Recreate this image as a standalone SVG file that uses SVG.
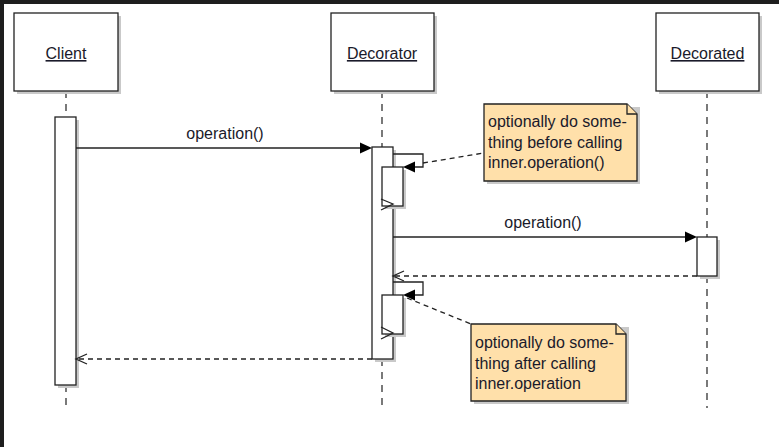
<svg xmlns="http://www.w3.org/2000/svg" width="779" height="447" viewBox="0 0 779 447">
<defs>
<style>
.box{fill:#fff;stroke:#222;stroke-width:1.3}
.shadow{fill:#c9c9c9}
.life{stroke:#333;stroke-width:1.3;stroke-dasharray:7,6;fill:none}
.msg{stroke:#222;stroke-width:1.3;fill:none}
.ret{stroke:#222;stroke-width:1.3;stroke-dasharray:5,4;fill:none}
.link{stroke:#222;stroke-width:1.3;stroke-dasharray:5,4;fill:none}
.note{fill:#ffe0aa;stroke:#222;stroke-width:1.3}
.lbl{font-family:"Liberation Sans",Arial,sans-serif;font-size:16px;fill:#1a1a2a}
.head{text-decoration:underline;text-anchor:middle}
.mid{text-anchor:middle}
.fill{fill:#000}
.open{stroke:#222;stroke-width:1.3;fill:none}
</style>
</defs>
<rect x="0" y="0" width="779" height="447" fill="#fff"/>
<rect x="0" y="0" width="779" height="4" fill="#1e1e1e"/>
<rect x="0" y="0" width="4" height="447" fill="#1e1e1e"/>

<g id="lifelines">
<line class="life" x1="66" y1="91" x2="66" y2="117"/>
<line class="life" x1="66" y1="385" x2="66" y2="408"/>
<line class="life" x1="382" y1="91" x2="382" y2="147"/>
<line class="life" x1="382" y1="359" x2="382" y2="408"/>
<line class="life" x1="707" y1="91" x2="707" y2="237"/>
<line class="life" x1="707" y1="276" x2="707" y2="408"/>
</g>

<g id="client">
<rect class="shadow" x="17" y="16" width="104" height="78"/>
<rect class="box" x="14" y="13" width="104" height="78"/>
<text class="lbl head" x="66" y="59">Client</text>
</g>
<g id="decorator">
<rect class="shadow" x="334" y="16" width="103" height="78"/>
<rect class="box" x="331" y="13" width="103" height="78"/>
<text class="lbl head" x="382" y="59">Decorator</text>
</g>
<g id="decorated">
<rect class="shadow" x="659" y="16" width="103" height="78"/>
<rect class="box" x="656" y="13" width="103" height="78"/>
<text class="lbl head" x="707.5" y="59">Decorated</text>
</g>

<g id="client-activation">
<rect class="shadow" x="58" y="120" width="21" height="268"/>
<rect class="box" x="55" y="117" width="21" height="268"/>
</g>
<g id="decorator-activation">
<rect class="shadow" x="375" y="150" width="21" height="212"/>
<rect class="box" x="372" y="147" width="21" height="212"/>
</g>
<g id="decorated-activation">
<rect class="shadow" x="700" y="240" width="20" height="39"/>
<rect class="box" x="697" y="237" width="20" height="39"/>
</g>

<g id="connectors">
<!-- message 1 -->
<line class="msg" x1="76" y1="148" x2="362" y2="148"/>
<polygon class="fill" points="372,148 360,142.5 360,153.5"/>
<text class="lbl mid" x="225" y="139">operation()</text>
<!-- self-call 1 -->
<polyline class="msg" points="393,154 423,154 423,167 412,167"/>
<!-- message 2 -->
<line class="msg" x1="393" y1="237" x2="687" y2="237"/>
<polygon class="fill" points="697,237 685,231.5 685,242.5"/>
<text class="lbl mid" x="543" y="228">operation()</text>
<!-- return from decorated -->
<line class="ret" x1="697" y1="276" x2="394" y2="276"/>
<polyline class="open" points="404,271 393,276 404,281"/>
<!-- self-call 2 -->
<polyline class="msg" points="393,282 423,282 423,295 412,295"/>
<!-- return to client -->
<line class="ret" x1="372" y1="359" x2="77" y2="359"/>
<polyline class="open" points="87,354 76,359 87,364"/>
</g>

<g id="nested-1">
<rect class="shadow" x="385" y="170" width="21" height="39"/>
<rect class="box" x="382" y="167" width="21" height="39"/>
<polygon class="fill" points="403,167 415,161.5 415,172.5"/>
<polyline class="open" points="381,199 393,204 381,210"/>
</g>
<g id="nested-2">
<rect class="shadow" x="385" y="298" width="21" height="39"/>
<rect class="box" x="382" y="295" width="21" height="39"/>
<polygon class="fill" points="403,295 415,289.5 415,300.5"/>
<polyline class="open" points="381,327 393,333 381,339"/>
</g>

<g id="note-links">
<line class="link" x1="423" y1="163" x2="484" y2="153"/>
<line class="link" x1="407" y1="298" x2="471" y2="324"/>
</g>

<g id="note-before">
<polygon class="shadow" points="487,107 640,107 640,184 487,184"/>
<polygon class="note" points="484,104 627,104 637,114 637,181 484,181"/>
<polyline class="note" points="627,104 627,114 637,114" fill="#fff"/>
<text class="lbl" x="488" y="127">optionally do some-</text>
<text class="lbl" x="488" y="147.5">thing before calling</text>
<text class="lbl" x="488" y="168">inner.operation()</text>
</g>
<g id="note-after">
<polygon class="shadow" points="474,327 629,327 629,404 474,404"/>
<polygon class="note" points="471,324 616,324 626,334 626,401 471,401"/>
<polyline class="note" points="616,324 616,334 626,334" fill="#fff"/>
<text class="lbl" x="475" y="348">optionally do some-</text>
<text class="lbl" x="475" y="368.5">thing after calling</text>
<text class="lbl" x="475" y="389">inner.operation</text>
</g>
</svg>
